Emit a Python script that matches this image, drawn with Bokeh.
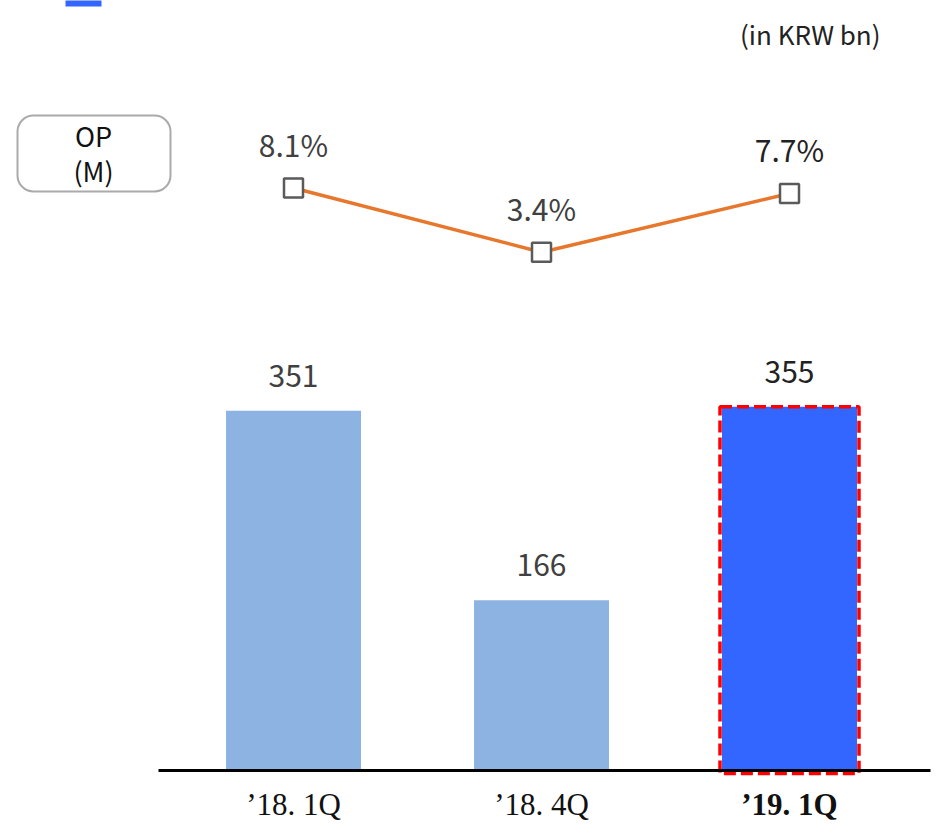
from bokeh.plotting import figure
from bokeh.models import Range1d, BoxAnnotation, Label, ColumnDataSource
from bokeh.core.properties import value
from bokeh.embed import file_html
from bokeh.resources import INLINE

# ---------------- data ----------------
quarters = ["’18. 1Q", "’18. 4Q", "’19. 1Q"]
op_values = [351, 166, 355]
op_labels = ["351", "166", "355"]
margin_values = [8.1, 3.4, 7.7]
margin_labels = ["8.1%", "3.4%", "7.7%"]
highlight = [False, False, True]
unit_text = "(in KRW bn)"
series_name = "OP\n(M)"

# ---------------- layout (pixel geometry of the canvas) ----------------
W, H = 944, 824
X0_PX, X_STEP = 293, 248          # pixel centre of first category, px per category
BASE_PX, Y_SCALE = 770, 1.025     # baseline pixel (from top), px per KRW bn
LINE_A, LINE_B = 298.2, 13.67     # line axis: px_top = A - B * pct


def px_x(px):
    return (px - X0_PX) / X_STEP


def px_y(px_top):
    return (BASE_PX - px_top) / Y_SCALE


x_idx = list(range(len(quarters)))

p = figure(width=W, height=H, min_border=0, output_backend="svg", toolbar_location=None,
           x_range=Range1d(px_x(0), px_x(W)), y_range=Range1d(px_y(H), px_y(0)),
           x_axis_location=None, y_axis_location=None)
p.grid.visible = False
p.outline_line_color = None
p.background_fill_color = "white"
p.border_fill_color = "white"
p.extra_y_ranges = {"pct": Range1d((LINE_A - H) / LINE_B, LINE_A / LINE_B)}

bar_src = ColumnDataSource(dict(
    x=x_idx, top=op_values, label=op_labels, cat=quarters,
    color=["#3366FF" if h else "#8DB3E2" for h in highlight],
    txtcol=["#222222" if h else "#404040" for h in highlight],
    style=["bold" if h else "normal" for h in highlight],
))

BAR_W = 135 / X_STEP
p.vbar(x="x", top="top", bottom=0, width=BAR_W, source=bar_src,
       fill_color="color", line_color=None)

# dashed highlight frame around the latest quarter
hx = [x for x, h in zip(x_idx, highlight) if h]
ht = [v for v, h in zip(op_values, highlight) if h]
p.vbar(x=hx, top=ht, bottom=-3 / Y_SCALE, width=BAR_W + 4 / X_STEP,
       fill_color=None, line_color="#FF0000", line_width=3.5, line_dash="12 5")

# baseline
p.segment(x0=px_x(158), x1=px_x(930), y0=0, y1=0, line_color="black", line_width=3)

# value labels above bars
p.text(x="x", y="top", text="label", source=bar_src, y_offset=-35,
       text_align="center", text_baseline="middle", text_font=value("Noto Sans CJK KR"),
       text_font_size="30px", text_color="txtcol")

# category labels below the baseline
p.text(x="x", y=0, text="cat", source=bar_src, y_offset=34,
       text_align="center", text_baseline="middle", text_font=value("Liberation Serif"),
       text_font_size="31px", text_color="#111111", text_font_style="style")

# margin line
line_src = ColumnDataSource(dict(x=x_idx, y=margin_values, label=margin_labels,
                                 txtcol=["#222222" if h else "#404040" for h in highlight]))
p.line(x="x", y="y", source=line_src, y_range_name="pct", line_color="#E8772E", line_width=3.5)
p.scatter(x="x", y="y", source=line_src, y_range_name="pct", marker="square", size=19,
          fill_color="white", line_color="#5A5A5A", line_width=2.5)
p.text(x="x", y="y", text="label", source=line_src, y_range_name="pct", y_offset=-44,
       text_align="center", text_baseline="middle", text_font=value("Noto Sans CJK KR"),
       text_font_size="30px", text_color="txtcol")

# series tag box
p.add_layout(BoxAnnotation(left=px_x(17), right=px_x(170), top=px_y(115), bottom=px_y(191),
                           fill_color="white", fill_alpha=1, line_color="#AAAAAA",
                           line_alpha=1, line_width=2, border_radius=16))
for i, t in enumerate(series_name.split("\n")):
    p.add_layout(Label(x=px_x(93), y=px_y(135 + 35 * i), text=t, text_align="center",
                       text_baseline="middle", text_font="Noto Sans CJK KR",
                       text_font_size="27px", text_color="#111111"))

# unit label
p.add_layout(Label(x=px_x(880), y=px_y(33), text=unit_text, text_align="right",
                   text_baseline="middle", text_font="Noto Sans CJK KR",
                   text_font_size="26px", text_color="#222222"))

# clipped legend swatch at top
p.add_layout(BoxAnnotation(left=px_x(65), right=px_x(101), top=px_y(-10), bottom=px_y(6),
                           fill_color="#3366FF", fill_alpha=1, line_color=None))

open("out.html", "w").write(file_html(p, INLINE))
